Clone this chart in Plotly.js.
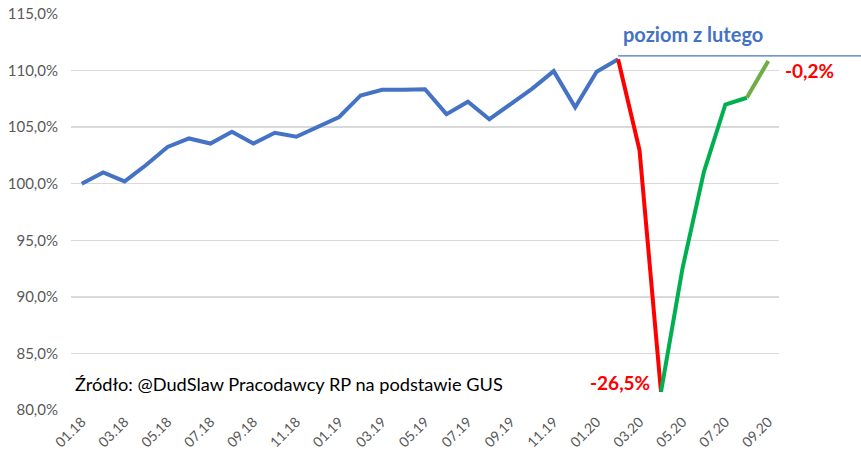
<!DOCTYPE html>
<html>
<head>
<meta charset="utf-8">
<script src="https://cdn.plot.ly/plotly-3.0.1.min.js"></script>
<style>html,body{margin:0;padding:0;background:#fff;}#chart{width:861px;height:459px;}</style>
</head>
<body>
<div id="chart"></div>
<script>
const months = ["01.18","02.18","03.18","04.18","05.18","06.18","07.18","08.18","09.18","10.18","11.18","12.18",
  "01.19","02.19","03.19","04.19","05.19","06.19","07.19","08.19","09.19","10.19","11.19","12.19",
  "01.20","02.20","03.20","04.20","05.20","06.20","07.20","08.20","09.20"];
const values = [100.0,101.0,100.2,101.65,103.25,104.0,103.55,104.6,103.55,104.5,104.15,105.0,
  105.9,107.8,108.3,108.3,108.35,106.15,107.25,105.7,107.1,108.4,109.95,106.75,
  109.9,111.0,102.95,81.6,92.5,101.05,107.0,107.6,110.85];
const tickLabels = months.filter((m, i) => i % 2 === 0);
const yTicks = [80,85,90,95,100,105,110,115];
const yTickText = yTicks.map(v => v.toFixed(1).replace('.', ',') + '%');
const sourceText = "Źródło: @DudSlaw Pracodawcy RP na podstawie GUS";
const levelText = "poziom z lutego";
const dropText = "-26,5%";
const gapText = "-0,2%";

const iFeb = months.indexOf("02.20");
const iApr = months.indexOf("04.20");
const iAug = months.indexOf("08.20");
const last = months.length - 1;
const n = months.length;

function seg(a, b, color) {
  return {x: months.slice(a, b + 1), y: values.slice(a, b + 1), type: 'scatter', mode: 'lines',
    line: {color: color, width: 4}, hoverinfo: 'skip', showlegend: false};
}
const data = [
  seg(0, iFeb, '#4472C4'),
  seg(iFeb, iApr, '#FF0000'),
  seg(iApr, iAug, '#00B050'),
  seg(iAug, last, '#70AD47')
];
const font = "Lato, 'Open Sans', sans-serif";
const layout = {
  width: 861, height: 459,
  margin: {l: 71, r: 82, t: 14, b: 49},
  paper_bgcolor: '#fff', plot_bgcolor: '#fff',
  font: {family: font, color: '#595959'},
  xaxis: {type: 'category', categoryorder: 'array', categoryarray: months,
    tickmode: 'array', tickvals: tickLabels, ticktext: tickLabels,
    tickangle: -45, tickfont: {size: 14, color: '#595959'}, showgrid: false, zeroline: false,
    showline: false, ticks: '', range: [-0.5, n - 0.5], fixedrange: true},
  yaxis: {range: [80, 115], tickmode: 'array', tickvals: yTicks, ticktext: yTickText,
    tickfont: {size: 15, color: '#595959'}, gridcolor: '#D9D9D9', gridwidth: 1.5,
    zeroline: false, showline: false, ticks: '', ticklabelstandoff: 12, fixedrange: true},
  shapes: [{type: 'line', xref: 'paper', yref: 'y', x0: (iFeb + 0.5) / n, x1: 1.12,
    y0: values[iFeb] + 0.3, y1: values[iFeb] + 0.3, line: {color: '#4472C4', width: 1.2}}],
  annotations: [
    {xref: 'paper', yref: 'y', x: (iFeb + 4.0) / n, y: values[iFeb] + 2.2, text: '<b>' + levelText + '</b>',
      xanchor: 'center', yanchor: 'middle', showarrow: false, font: {size: 20, color: '#4472C4', family: font}},
    {xref: 'paper', yref: 'y', x: (last + 1.2) / n, y: values[last] - 0.85, text: '<b>' + gapText + '</b>',
      xanchor: 'left', yanchor: 'middle', showarrow: false, font: {size: 19, color: '#FF0000', family: font}},
    {xref: 'paper', yref: 'y', x: (iApr + 0.1) / n, y: values[iApr] + 0.8, text: '<b>' + dropText + '</b>',
      xanchor: 'right', yanchor: 'middle', showarrow: false, font: {size: 19, color: '#FF0000', family: font}},
    {xref: 'paper', yref: 'y', x: 0.003, y: 82.3, text: sourceText, xanchor: 'left', yanchor: 'middle',
      showarrow: false, font: {size: 18.2, color: '#000000', family: font}}
  ]
};
Plotly.newPlot('chart', data, layout, {displayModeBar: false, staticPlot: true});
</script>
</body>
</html>
